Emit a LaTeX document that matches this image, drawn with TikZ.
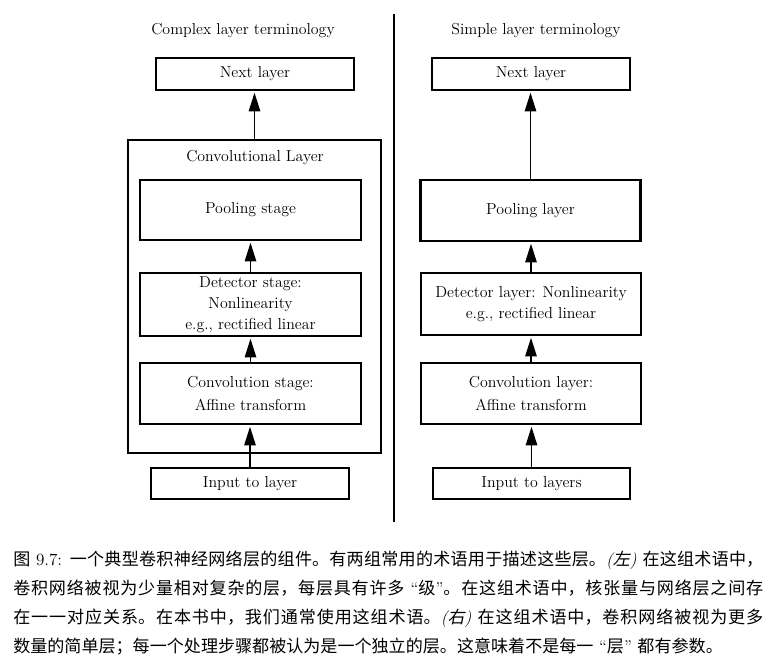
\documentclass[tikz,border=0pt]{standalone}
\usepackage{fontspec}
\newfontfamily\cjk{Noto Sans CJK SC}[AutoFakeSlant=0.2]
\usetikzlibrary{arrows.meta}
\XeTeXlinebreaklocale "zh"
\XeTeXlinebreakskip=0pt plus 3pt minus 0.3pt
\newcommand{\dfont}{\fontsize{11.9}{15.6}\selectfont}
\newcommand{\capfont}{\fontsize{12.8}{21.6}\selectfont}
\begin{document}
\begin{tikzpicture}[x=0.75pt,y=-0.75pt,
  box/.style={draw, line width=2pt, inner sep=0pt, align=center, font=\dfont},
  bx/.style 2 args={box, minimum width=#1*0.75pt, minimum height=#2*0.75pt},
  arr/.style={line width=1.3pt, shorten >=1pt, -{Triangle[width=8.5pt,length=14pt]}},
  lbl/.style={font=\dfont, inner sep=0pt}]
\useasboundingbox (0,0) rectangle (778,669);

% titles
\node[lbl] (titleL) at (243,31) {Complex layer terminology};
\node[lbl] (titleR) at (536,31) {Simple layer terminology};

% divider
\coordinate (dtop) at (394,14);
\coordinate (dbot) at (394,522);
\draw[line width=1.3pt] (dtop) -- (dbot);

% left column
\node[bx={253}{313}] (convL) at (254.5,296.5) {};
\node[lbl] (convLlbl) at (255,158) {Convolutional Layer};
\node[bx={198}{32}] (nextL) at (255,74) {Next layer};
\node[bx={221}{60}] (poolL) at (250.5,210) {Pooling stage};
\node[bx={221}{63}] (detL) at (250.5,304.5) {Detector stage:\\Nonlinearity\\e.g., rectified linear};
\node[bx={221}{61}] (cvL) at (250.5,393.5) {Convolution stage:\\[1pt]Affine transform};
\node[bx={198}{31}] (inL) at (250,483.5) {Input to layer};

\draw[arr] (inL.north) -- (inL.north |- cvL.south);
\draw[arr] (cvL.north) -- (detL.south);
\draw[arr] (detL.north) -- (poolL.south);
\draw[arr] (convL.north) -- (convL.north |- nextL.south);

% right column
\node[bx={198}{32}] (nextR) at (531,74) {Next layer};
\node[bx={220}{61}] (poolR) at (530.5,210.5) {Pooling layer};
\node[bx={220}{62}] (detR) at (531,304) {Detector layer: Nonlinearity\\e.g., rectified linear};
\node[bx={220}{61}] (cvR) at (531,393.5) {Convolution layer:\\[1pt]Affine transform};
\node[bx={197}{31}] (inR) at (531.5,483.5) {Input to layers};

\draw[arr] (inR.north) -- (inR.north |- cvR.south);
\draw[arr] (cvR.north) -- (detR.south);
\draw[arr] (detR.north) -- (detR.north |- poolR.south);
\draw[arr] (poolR.north) -- (poolR.north |- nextR.south);

% caption
\node[anchor=north west, inner sep=0pt, text width=562.5pt, align=justify, font=\capfont] (cap) at (13,551) {%
{\cjk 图} 9.7: {\cjk 一个典型卷积神经网络层的组件。有两组常用的术语用于描述这些层。}{\itshape ({\cjk 左})} {\cjk 在这组术语中，}\linebreak
{\cjk 卷积网络被视为少量相对复杂的层，每层具有许多} ``{\cjk 级}''{\cjk 。在这组术语中，核张量与网络层之间存}\linebreak
{\cjk 在一一对应关系。在本书中，我们通常使用这组术语。}{\itshape ({\cjk 右})} {\cjk 在这组术语中，卷积网络被视为更多}\linebreak
{\cjk 数量的简单层；每一个处理步骤都被认为是一个独立的层。这意味着不是每一} ``{\cjk 层}'' {\cjk 都有参数。}};
\end{tikzpicture}
\end{document}
